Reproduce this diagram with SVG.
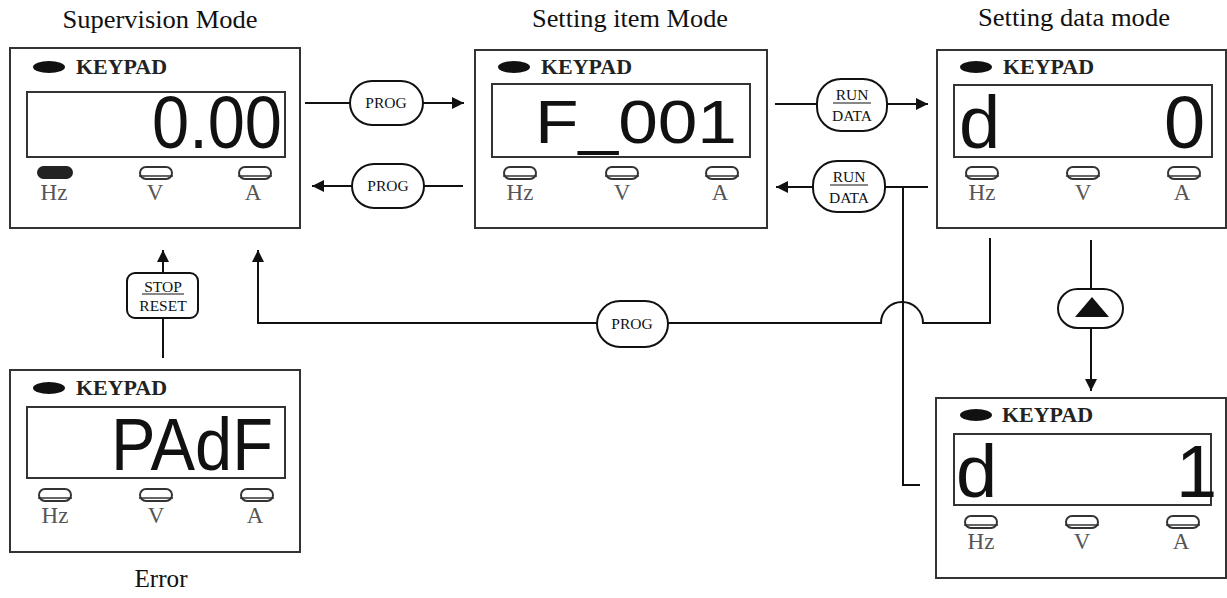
<svg xmlns="http://www.w3.org/2000/svg" width="1227" height="598" viewBox="0 0 1227 598">
<style>
.title{font-family:"Liberation Serif",serif;font-size:25px;fill:#111;text-anchor:middle}
.frame{fill:#fff;stroke:#333;stroke-width:2}
.disp{fill:none;stroke:#333;stroke-width:2}
.kp{font-family:"Liberation Serif",serif;font-size:21px;font-weight:bold;fill:#222}
.led{fill:#fff;stroke:#333;stroke-width:2}
.ledon{fill:#222;stroke:#222;stroke-width:2}
.lbl{font-family:"Liberation Serif",serif;font-size:23px;fill:#555;text-anchor:middle}
.lcd{font-family:"Liberation Sans",sans-serif;font-size:74px;fill:#111}
.lcd.sm{font-size:62px}
.conn{fill:none;stroke:#111;stroke-width:2}
.pill{fill:#fff;stroke:#111;stroke-width:2}
.btn{font-family:"Liberation Serif",serif;font-size:15.5px;fill:#111;text-anchor:middle}
.ul{stroke:#111;stroke-width:1}
</style>
<defs>
<marker id="ah" viewBox="0 0 10 10" refX="10" refY="5" markerWidth="14" markerHeight="12" markerUnits="userSpaceOnUse" orient="auto">
<path d="M0,0 L10,5 L0,10 z" fill="#111"/>
</marker>
<g id="ledoff"><rect x="-16" y="-6" width="32" height="12" rx="6" class="led"/><line x1="-17" y1="3" x2="17" y2="3" stroke="#333" stroke-width="1.5"/></g>
</defs>

<text class="title" x="160" y="28" textLength="195" lengthAdjust="spacingAndGlyphs">Supervision Mode</text>
<text class="title" x="630" y="27" textLength="196" lengthAdjust="spacingAndGlyphs">Setting item Mode</text>
<text class="title" x="1074" y="26" textLength="192" lengthAdjust="spacingAndGlyphs">Setting data mode</text>
<text class="title" x="161" y="587" textLength="53" lengthAdjust="spacingAndGlyphs">Error</text>

<g id="connectors">
<path class="conn" d="M305,103 H464" marker-end="url(#ah)"/>
<path class="conn" d="M463,186 H312" marker-end="url(#ah)"/>
<path class="conn" d="M775,104 H928" marker-end="url(#ah)"/>
<path class="conn" d="M928,187 H776" marker-end="url(#ah)"/>
<path class="conn" d="M903,187 V485 H920"/>
<path class="conn" d="M990,238 V323 H923 A21,21 0 0 0 881,323 H258 V250" marker-end="url(#ah)"/>
<path class="conn" d="M163,358 V250" marker-end="url(#ah)"/>
<path class="conn" d="M1091,240 V391" marker-end="url(#ah)"/>
</g>

<g id="btn-prog1"><rect class="pill" x="350" y="81" width="73" height="44" rx="22"/><text class="btn" x="386" y="108">PROG</text></g>
<g id="btn-prog2"><rect class="pill" x="352" y="164" width="72" height="44" rx="22"/><text class="btn" x="388" y="191">PROG</text></g>
<g id="btn-run1"><rect class="pill" x="817" y="79" width="70" height="52" rx="24"/><text class="btn" x="852" y="100">RUN</text><line class="ul" x1="833" y1="103" x2="871" y2="103"/><text class="btn" x="852" y="121">DATA</text></g>
<g id="btn-run2"><rect class="pill" x="813" y="161" width="72" height="51" rx="24"/><text class="btn" x="849" y="182">RUN</text><line class="ul" x1="830" y1="185" x2="868" y2="185"/><text class="btn" x="849" y="203">DATA</text></g>
<g id="btn-prog3"><rect class="pill" x="597" y="301" width="71" height="46" rx="23"/><text class="btn" x="632" y="329">PROG</text></g>
<g id="btn-stop"><rect class="pill" x="127" y="273" width="71" height="45" rx="8"/><text class="btn" x="163" y="292">STOP</text><line class="ul" x1="142" y1="294" x2="184" y2="294"/><text class="btn" x="163" y="311">RESET</text></g>
<g id="btn-up"><rect class="pill" x="1058" y="289" width="65" height="39" rx="19.5"/><polygon points="1092,297 1075,317 1109,317" fill="#111"/></g>

<g id="panel-supervision" transform="translate(10,48)">
<rect class="frame" x="0" y="0" width="290" height="180"/>
<ellipse cx="39" cy="19" rx="16" ry="6" fill="#111"/>
<text class="kp" x="66" y="26" textLength="91" lengthAdjust="spacingAndGlyphs">KEYPAD</text>
<rect class="disp" x="17" y="44" width="258" height="65"/>
<text class="lcd" x="142" y="100" textLength="130" lengthAdjust="spacingAndGlyphs">0.00</text>
<rect x="28" y="119" width="34" height="11" rx="5.5" class="ledon"/>
<use href="#ledoff" x="146" y="125"/>
<use href="#ledoff" x="245" y="125"/>
<text class="lbl" x="44" y="152">Hz</text><text class="lbl" x="145" y="152">V</text><text class="lbl" x="243" y="152">A</text>
</g>

<g id="panel-item" transform="translate(475,50)">
<rect class="frame" x="0" y="0" width="292" height="178"/>
<ellipse cx="39" cy="17" rx="16" ry="6" fill="#111"/>
<text class="kp" x="66" y="24" textLength="91" lengthAdjust="spacingAndGlyphs">KEYPAD</text>
<rect class="disp" x="17" y="34" width="258" height="73"/>
<text class="lcd sm" x="60" y="93" textLength="202" lengthAdjust="spacingAndGlyphs">F_001</text>
<use href="#ledoff" x="45" y="123"/>
<use href="#ledoff" x="147" y="123"/>
<use href="#ledoff" x="247" y="123"/>
<text class="lbl" x="45" y="150">Hz</text><text class="lbl" x="147" y="150">V</text><text class="lbl" x="245" y="150">A</text>
</g>

<g id="panel-data0" transform="translate(937,50)">
<rect class="frame" x="0" y="0" width="289" height="178"/>
<ellipse cx="39" cy="17" rx="16" ry="6" fill="#111"/>
<text class="kp" x="66" y="24" textLength="91" lengthAdjust="spacingAndGlyphs">KEYPAD</text>
<rect class="disp" x="17" y="35" width="258" height="72"/>
<text class="lcd" x="22" y="98">d</text>
<text class="lcd" x="227" y="98">0</text>
<use href="#ledoff" x="45" y="123"/>
<use href="#ledoff" x="146" y="123"/>
<use href="#ledoff" x="247" y="123"/>
<text class="lbl" x="45" y="150">Hz</text><text class="lbl" x="146" y="150">V</text><text class="lbl" x="245" y="150">A</text>
</g>

<g id="panel-error" transform="translate(10,370)">
<rect class="frame" x="0" y="0" width="290" height="182"/>
<ellipse cx="39" cy="18" rx="16" ry="6" fill="#111"/>
<text class="kp" x="66" y="25" textLength="91" lengthAdjust="spacingAndGlyphs">KEYPAD</text>
<rect class="disp" x="17" y="37" width="258" height="71"/>
<text class="lcd" x="101" y="100" textLength="162" lengthAdjust="spacingAndGlyphs">PAdF</text>
<use href="#ledoff" x="45" y="125"/>
<use href="#ledoff" x="146" y="125"/>
<use href="#ledoff" x="247" y="125"/>
<text class="lbl" x="45" y="153">Hz</text><text class="lbl" x="146" y="153">V</text><text class="lbl" x="245" y="153">A</text>
</g>

<g id="panel-data1" transform="translate(936,398)">
<rect class="frame" x="0" y="0" width="290" height="180"/>
<ellipse cx="40" cy="17" rx="16" ry="6" fill="#111"/>
<text class="kp" x="66" y="24" textLength="91" lengthAdjust="spacingAndGlyphs">KEYPAD</text>
<rect class="disp" x="18" y="36" width="257" height="71"/>
<text class="lcd" x="20" y="99">d</text>
<text class="lcd" x="240" y="99">1</text>
<use href="#ledoff" x="45" y="124"/>
<use href="#ledoff" x="146" y="124"/>
<use href="#ledoff" x="247" y="124"/>
<text class="lbl" x="45" y="151">Hz</text><text class="lbl" x="146" y="151">V</text><text class="lbl" x="245" y="151">A</text>
</g>
</svg>
